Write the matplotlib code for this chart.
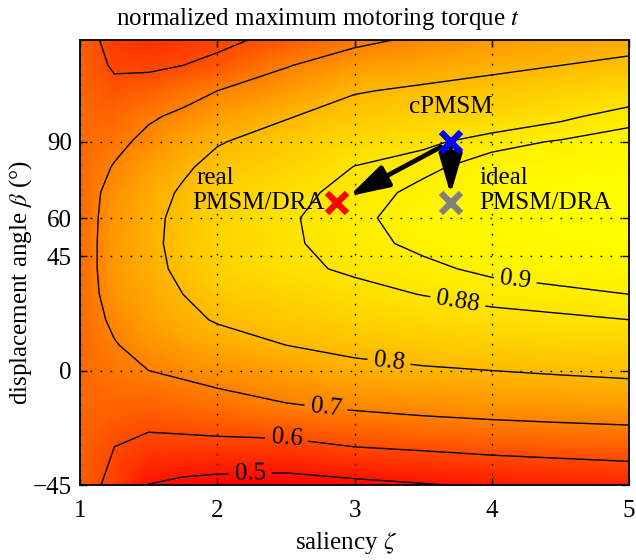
import matplotlib
matplotlib.use('Agg')
import matplotlib.pyplot as plt
import numpy as np

plt.rcParams['font.family'] = ['Liberation Serif', 'DejaVu Serif']
plt.rcParams['mathtext.fontset'] = 'stix'

# grid
zeta = [1, 1.25, 1.5, 1.75, 2, 2.5, 3, 3.5, 4, 4.5, 5]
beta = [-45, -30, -15, 0, 10, 20, 30, 40, 50, 60, 70, 80, 90, 100, 110, 120, 130]

# normalized maximum motoring torque t, one list per saliency (along beta)
t_cols = [
    [0.640, 0.645, 0.650, 0.655, 0.655, 0.655, 0.655, 0.655, 0.655, 0.655, 0.655, 0.655, 0.655, 0.655, 0.650, 0.645, 0.640],
    [0.575, 0.600, 0.645, 0.680, 0.695, 0.715, 0.735, 0.745, 0.745, 0.740, 0.730, 0.705, 0.680, 0.650, 0.620, 0.590, 0.570],
    [0.498, 0.575, 0.640, 0.700, 0.730, 0.755, 0.770, 0.780, 0.785, 0.783, 0.775, 0.755, 0.720, 0.690, 0.640, 0.585, 0.550],
    [0.480, 0.575, 0.650, 0.715, 0.755, 0.785, 0.800, 0.815, 0.820, 0.818, 0.808, 0.790, 0.765, 0.715, 0.670, 0.600, 0.565],
    [0.470, 0.575, 0.665, 0.730, 0.775, 0.805, 0.830, 0.845, 0.850, 0.850, 0.840, 0.820, 0.795, 0.750, 0.700, 0.620, 0.580],
    [0.465, 0.575, 0.690, 0.755, 0.800, 0.830, 0.850, 0.872, 0.875, 0.876, 0.870, 0.850, 0.830, 0.795, 0.745, 0.695, 0.625],
    [0.480, 0.600, 0.705, 0.785, 0.815, 0.845, 0.870, 0.885, 0.893, 0.895, 0.890, 0.881, 0.860, 0.830, 0.795, 0.745, 0.680],
    [0.495, 0.612, 0.720, 0.793, 0.830, 0.860, 0.881, 0.895, 0.905, 0.910, 0.906, 0.895, 0.873, 0.845, 0.812, 0.765, 0.716],
    [0.510, 0.625, 0.730, 0.800, 0.840, 0.870, 0.890, 0.905, 0.913, 0.917, 0.915, 0.910, 0.893, 0.855, 0.825, 0.785, 0.745],
    [0.523, 0.633, 0.738, 0.808, 0.845, 0.875, 0.895, 0.910, 0.918, 0.923, 0.921, 0.915, 0.902, 0.874, 0.843, 0.800, 0.760],
    [0.535, 0.640, 0.745, 0.815, 0.850, 0.880, 0.900, 0.915, 0.922, 0.928, 0.927, 0.920, 0.910, 0.892, 0.860, 0.815, 0.775],
]

levels = [0.5, 0.6, 0.7, 0.8, 0.88, 0.9]
label_pos = [(2.24, -42), (2.5, -29), (2.79, -15.5), (3.25, 3), (3.75, 26.5), (4.17, 34.8)]

designs = ['cPMSM', 'real', 'ideal']
d_zeta = [3.7, 2.87, 3.7]
d_beta = [90, 66, 66]
d_color = ['#0000ff', '#ff0000', '#808080']

T = np.array(t_cols).T
Z, B = np.meshgrid(zeta, beta)

fs = 18
fig = plt.figure(figsize=(6.36, 5.6), dpi=100)
ax = fig.add_axes([80 / 636, 1 - 485 / 560, 549 / 636, 445 / 560])

ax.pcolormesh(Z, B, T, shading='gouraud', cmap='autumn', vmin=T.min(), vmax=T.max(), zorder=1)
cs = ax.contour(Z, B, T, levels=levels, colors='k', linewidths=1.0, zorder=2)
ax.set_xlim(1, 5)
ax.set_ylim(-45, 130)
ax.clabel(cs, levels, manual=label_pos, inline=True, inline_spacing=6,
          fmt={l: f'{l:g}' for l in levels}, fontsize=fs)

# arrows from the conventional design
for i in (1, 2):
    ax.annotate('', xy=(d_zeta[i], d_beta[i]), xytext=(d_zeta[0], d_beta[0]),
                arrowprops=dict(arrowstyle='-|>,head_length=1.1,head_width=0.32',
                                mutation_scale=22, lw=3.4, color='k',
                                shrinkA=8 if i == 1 else 2, shrinkB=10 if i == 1 else 6),
                zorder=4)

for zz, bb, cc in zip(d_zeta, d_beta, d_color):
    ax.plot(zz, bb, 'x', color=cc, ms=14, mew=4.5, zorder=5)

ax.annotate('cPMSM', (d_zeta[0], d_beta[0]), xytext=(0, 25), textcoords='offset points',
            ha='center', va='center', fontsize=fs, zorder=6)
ax.text(1.985, 75.6, 'real', ha='center', va='center', fontsize=fs, zorder=6)
ax.text(2.78, 65.8, 'PMSM/DRA', ha='right', va='center', fontsize=fs, zorder=6)
ax.text(3.91, 75.6, 'ideal', ha='left', va='center', fontsize=fs, zorder=6)
ax.text(3.91, 65.8, 'PMSM/DRA', ha='left', va='center', fontsize=fs, zorder=6)

ax.set_xticks([1, 2, 3, 4, 5])
ax.set_yticks([-45, 0, 45, 60, 90])
ax.set_yticklabels(['\u221245', '0', '45', '60', '90'])
ax.tick_params(direction='in', top=True, right=True, length=5, width=1, labelsize=fs)
ax.tick_params(axis='x', pad=11)
ax.tick_params(axis='y', pad=6)
ax.set_axisbelow(False)
ax.grid(True, color='k', linestyle=(0, (1.2, 6)), linewidth=1.0)
for s in ax.spines.values():
    s.set_linewidth(1.3)

ax.set_xlabel('saliency $\\zeta$', fontsize=fs)
ax.xaxis.set_label_coords(0.485, -0.1)
ax.set_ylabel('displacement angle $\\beta$ (°)', fontsize=fs)
ax.yaxis.set_label_coords(-0.084, 0.455)
fig.text(0.5, 1 - 19 / 560, 'normalized maximum motoring torque $t$', ha='center', va='center', fontsize=fs)

fig.savefig('out.png', dpi=100)
